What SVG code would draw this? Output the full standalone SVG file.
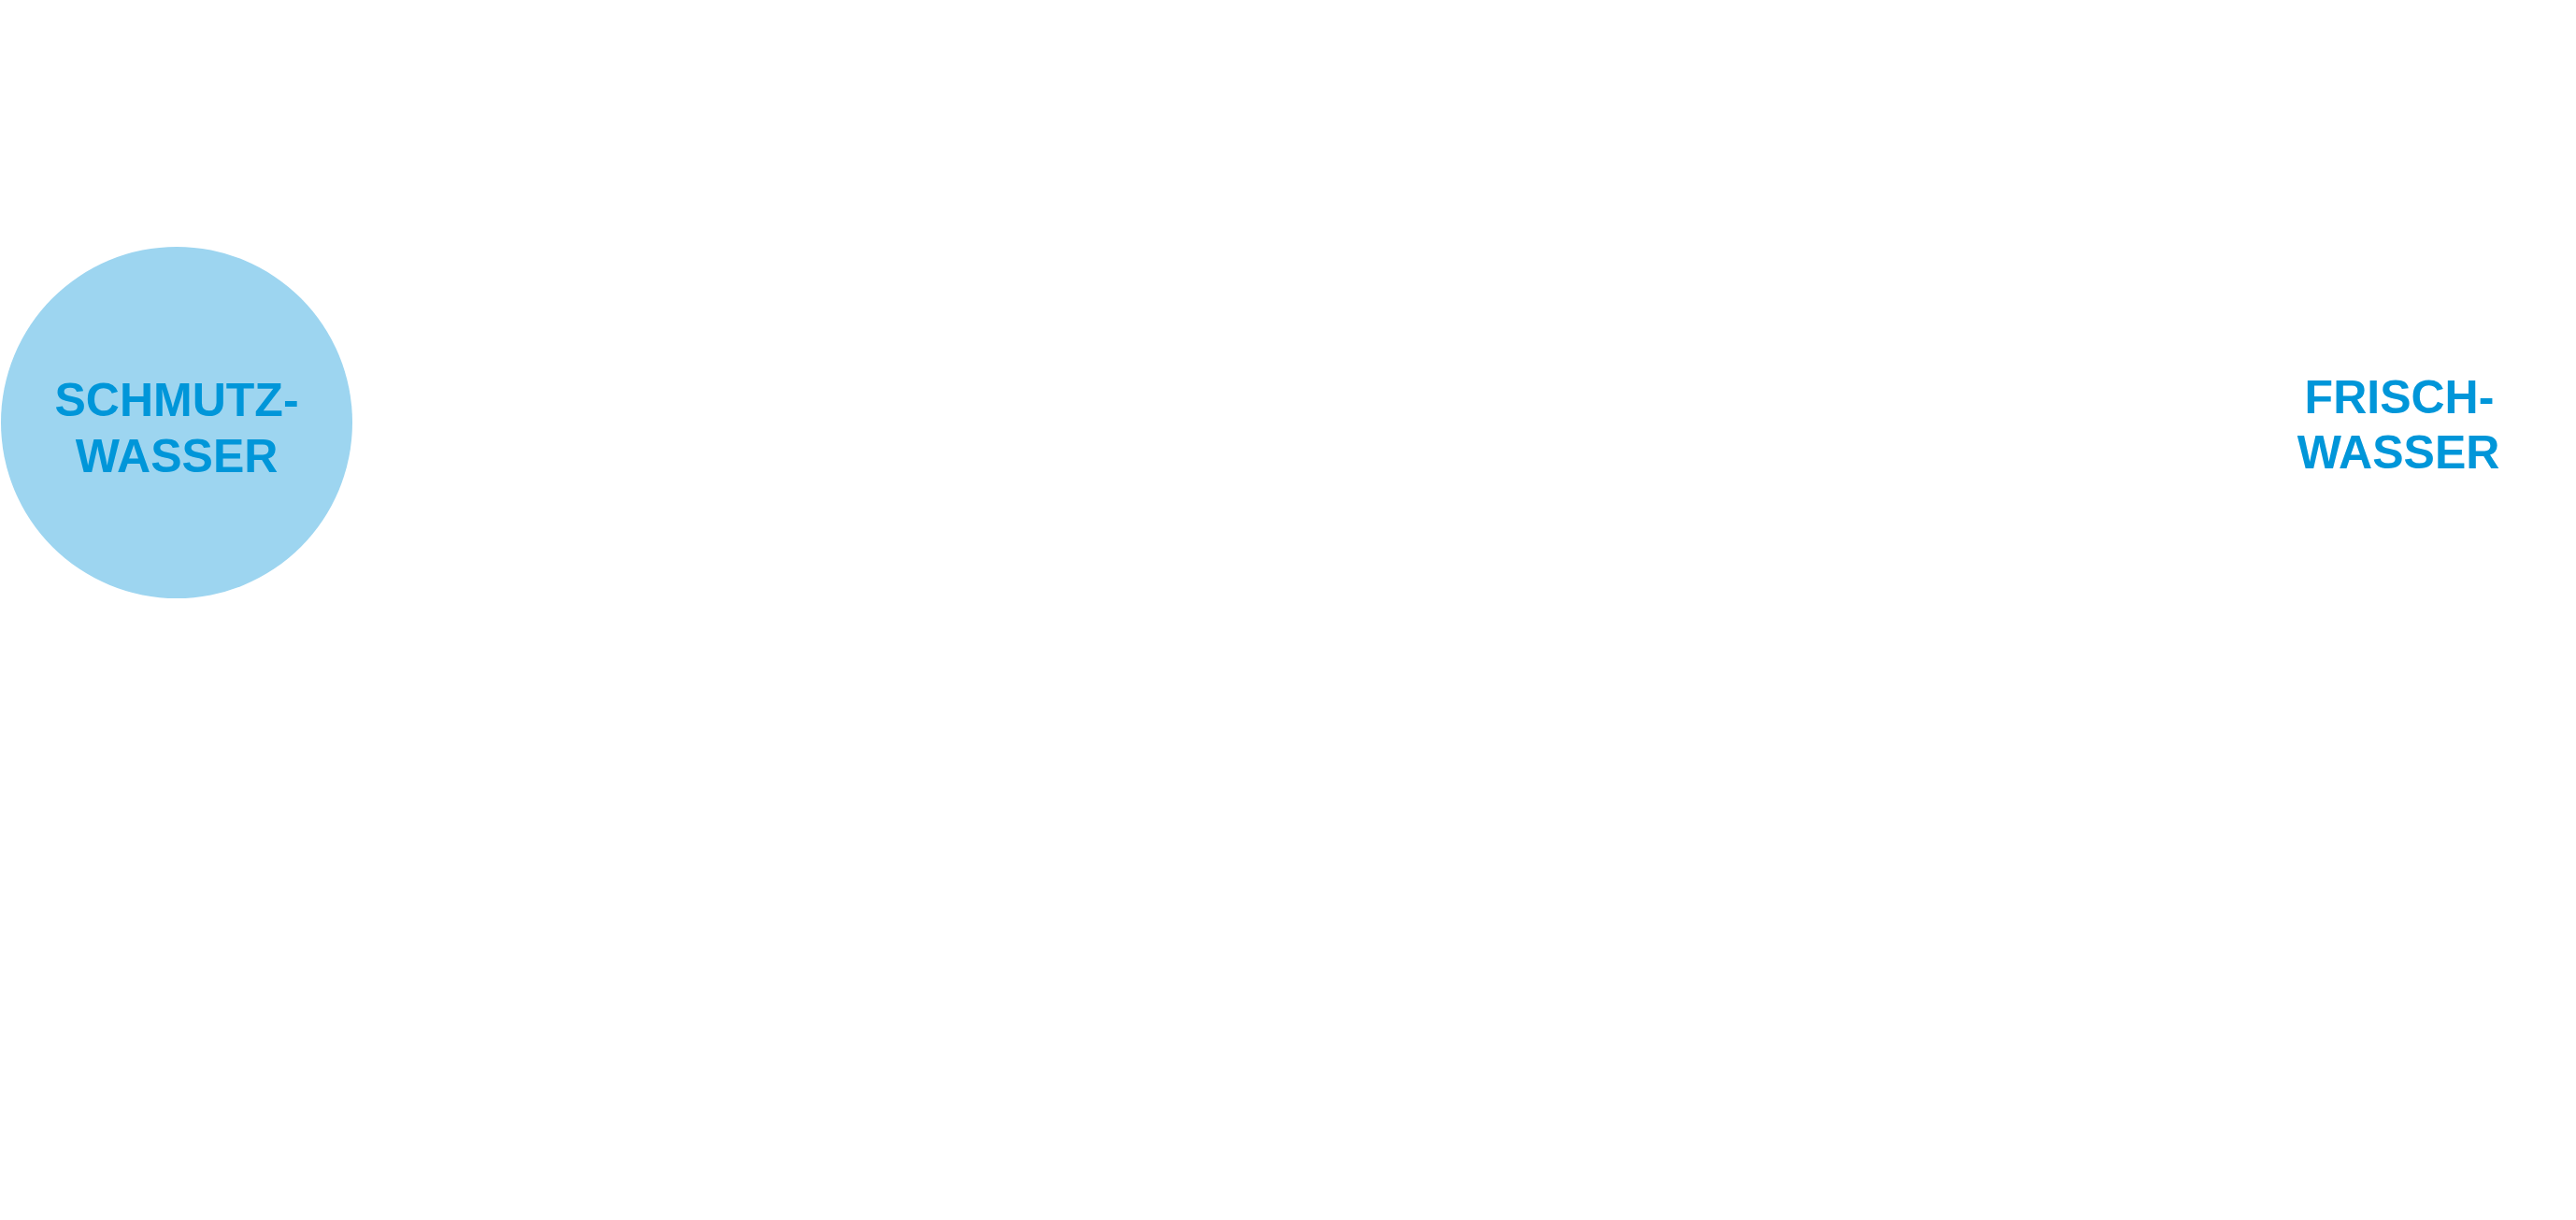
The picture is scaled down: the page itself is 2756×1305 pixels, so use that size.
<svg xmlns="http://www.w3.org/2000/svg" width="2756" height="1305" viewBox="0 0 2756 1305">
<style>
.t{font-family:"Liberation Sans",Arial,sans-serif;font-weight:bold;font-size:50px;fill:#0096d9;text-anchor:middle}
</style>
<rect width="2756" height="1305" fill="#fff"/>
<g id="schmutzwasser">
<circle cx="189" cy="452" r="188" fill="#9dd5f0"/>
<text class="t" x="189" y="445">SCHMUTZ-</text>
<text class="t" x="189" y="505">WASSER</text>
</g>
<g id="frischwasser">
<text class="t" x="2567" y="442">FRISCH-</text>
<text class="t" x="2566" y="501">WASSER</text>
</g>
<g id="connectors"/>
</svg>
